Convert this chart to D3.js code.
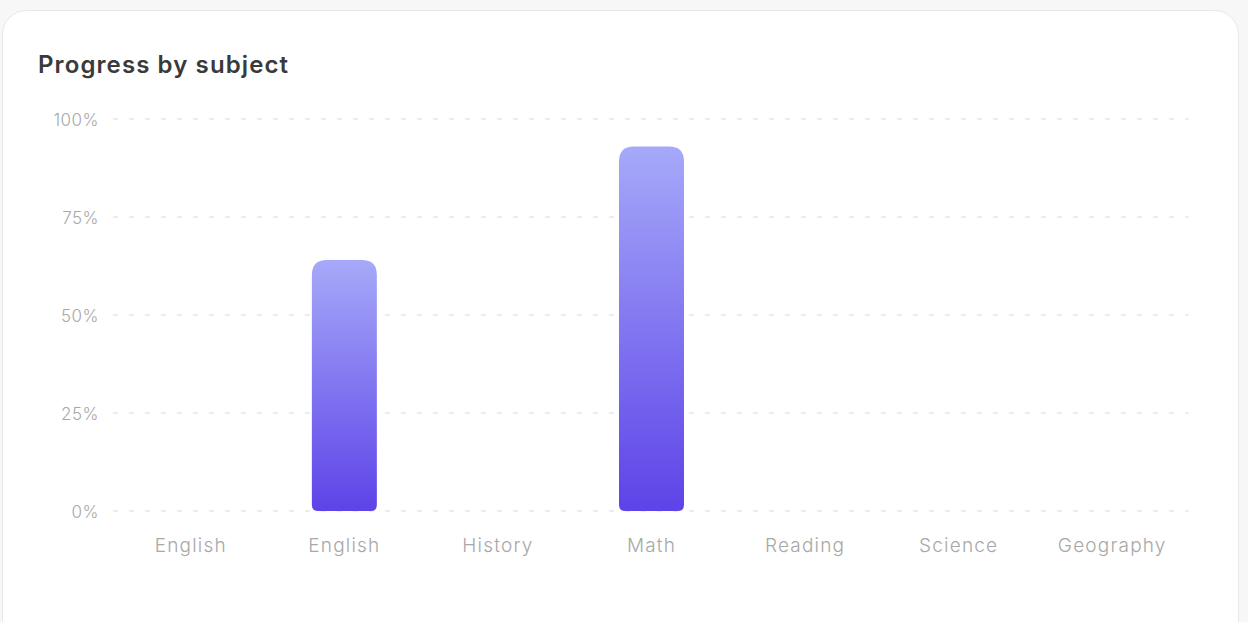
<!DOCTYPE html>
<html>
<head>
<meta charset="utf-8">
<script src="https://cdn.jsdelivr.net/npm/d3@7/dist/d3.min.js"></script>
<style>
  html, body { margin: 0; padding: 0; background: #f7f7f7; }
  body { width: 1248px; height: 622px; overflow: hidden; font-family: "Inter", "Noto Sans", sans-serif; }
</style>
</head>
<body>
<svg id="chart" width="1248" height="622"></svg>
<script>
const categories = ["English", "English", "History", "Math", "Reading", "Science", "Geography"];
const values = [0, 64, 0, 93, 0, 0, 0];
const yTicks = [0, 25, 50, 75, 100];
const title = "Progress by subject";

const svg = d3.select("#chart");

// card
svg.append("rect")
  .attr("x", 2.5).attr("y", 10.5)
  .attr("width", 1236).attr("height", 660)
  .attr("rx", 24).attr("ry", 24)
  .attr("fill", "#ffffff")
  .attr("stroke", "#e8e8e8").attr("stroke-width", 1);

svg.append("text")
  .attr("x", 38).attr("y", 73)
  .attr("font-size", 24).attr("font-weight", 600)
  .attr("fill", "#3a3a3a")
  .attr("letter-spacing", 1.1)
  .text(title);

const margin = { left: 114, right: 1189, top: 119, bottom: 511 };

const x = d3.scaleBand()
  .domain(d3.range(categories.length))
  .range([margin.left, margin.right])
  .paddingInner(0).paddingOuter(0);

const y = d3.scaleLinear().domain([0, 100]).range([margin.bottom, margin.top]);

const defs = svg.append("defs");
const grad = defs.append("linearGradient")
  .attr("id", "barGrad")
  .attr("x1", 0).attr("y1", 0).attr("x2", 0).attr("y2", 1);
grad.append("stop").attr("offset", "0%").attr("stop-color", "#a6a9f9");
grad.append("stop").attr("offset", "100%").attr("stop-color", "#5d43e8");

// grid
const grid = svg.append("g");
grid.selectAll("line").data(yTicks).join("line")
  .attr("x1", margin.left - 1).attr("x2", margin.right)
  .attr("y1", d => y(d)).attr("y2", d => y(d))
  .attr("stroke", "#dcdcdc").attr("stroke-width", 1.2)
  .attr("stroke-dasharray", "5 11");

// y axis labels
const yAxis = d3.axisLeft(y).tickValues(yTicks).tickSize(0).tickPadding(0).tickFormat(d => d + "%");
const yg = svg.append("g").attr("transform", `translate(99,1)`).call(yAxis);
yg.select(".domain").remove();
yg.selectAll("text")
  .attr("font-family", "Inter, 'Noto Sans', sans-serif")
  .attr("font-size", 17).attr("fill", "#a8a8a8").attr("font-weight", 300)
  .attr("letter-spacing", 0.5);

// x axis labels
const xAxis = d3.axisBottom(x).tickSize(0).tickPadding(0).tickFormat(i => categories[i]);
const xg = svg.append("g").attr("transform", `translate(0,538)`).call(xAxis);
xg.select(".domain").remove();
xg.selectAll("text")
  .attr("font-family", "Inter, 'Noto Sans', sans-serif")
  .attr("font-size", 19).attr("fill", "#a8a8a8").attr("font-weight", 300)
  .attr("letter-spacing", 1.2)
  .attr("dy", "0.71em");

// bars
const barW = 65;
function barPath(x0, y0, w, h, rt, rb) {
  rt = Math.min(rt, w / 2, h / 2);
  rb = Math.min(rb, w / 2, h / 2);
  return `M${x0},${y0 + rt}` +
    `Q${x0},${y0} ${x0 + rt},${y0}` +
    `L${x0 + w - rt},${y0}` +
    `Q${x0 + w},${y0} ${x0 + w},${y0 + rt}` +
    `L${x0 + w},${y0 + h - rb}` +
    `Q${x0 + w},${y0 + h} ${x0 + w - rb},${y0 + h}` +
    `L${x0 + rb},${y0 + h}` +
    `Q${x0},${y0 + h} ${x0},${y0 + h - rb}Z`;
}
svg.append("g").selectAll("path")
  .data(values.map((v, i) => ({ v, i })).filter(d => d.v > 0))
  .join("path")
  .attr("d", d => {
    const cx = x(d.i) + x.bandwidth() / 2;
    const top = y(d.v);
    return barPath(cx - barW / 2, top, barW, y(0) - top, 15, 6);
  })
  .attr("fill", "url(#barGrad)");
</script>
</body>
</html>
